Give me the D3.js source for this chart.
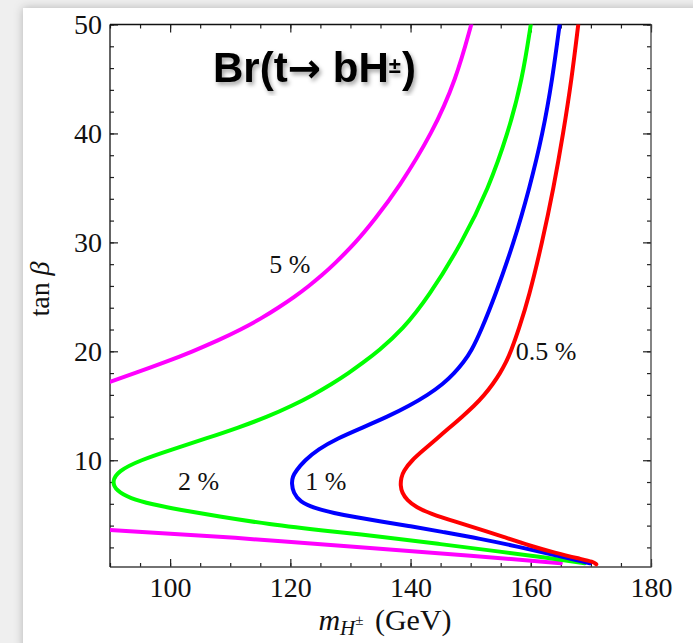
<!DOCTYPE html>
<html>
<head>
<meta charset="utf-8">
<script src="https://cdn.jsdelivr.net/npm/d3@7"></script>
<style>
body { margin: 0; background: #efefef; }
</style>
</head>
<body>
<div id="chart"></div>
<script>
// contours, [mH (GeV), tan beta]
// each one runs from its lower end, round the nose, up to the top
var br05 = [[170.9, 0.45], [170.4, 0.68], [168.2, 0.95], [164, 1.5], [159.9, 2.15], [155.5, 2.95], [151.6, 3.65],
    [147.5, 4.35], [143.2, 5.13], [141, 5.65], [139.4, 6.35], [138.6, 7.0], [138.3, 7.7], [138.45, 8.4],
    [138.8, 9.0], [140.2, 10], [142.3, 11], [144.4, 12], [146.5, 13], [148.6, 14], [150.6, 15], [152.3, 16],
    [153.7, 17], [154.9, 18], [155.9, 19], [156.7, 20], [158.0, 22], [159.7, 25], [161.9, 30], [163.8, 35],
    [165.4, 40], [166.8, 45], [167.9, 50]];

var br1 = [[169.8, 0.55], [164, 1.3], [158, 2.05], [151.6, 2.8], [145, 3.45], [140, 3.95], [134.9, 4.4],
    [131, 4.75], [127.2, 5.15], [124, 5.6], [121.6, 6.2], [120.5, 7.0], [120.2, 7.9], [120.4, 8.5],
    [120.9, 9], [122.4, 10], [124.6, 11], [127.8, 12], [132.0, 13], [136.2, 14], [139.8, 15], [142.9, 16],
    [145.4, 17], [147.3, 18], [148.8, 19], [150.1, 20], [151.8, 22], [154.0, 25], [157.2, 30], [159.8, 35],
    [162.0, 40], [163.6, 45], [164.8, 50]];

var br2 = [[169, 0.55], [162, 1.1], [155, 1.6], [145, 2.3], [134.9, 3.0], [127.2, 3.45], [116, 4.15],
    [108, 4.85], [101.6, 5.45], [97, 5.95], [93.3, 6.5], [91.1, 7.2], [90.3, 8.0], [91.3, 9], [95.0, 10],
    [100.4, 11], [106.0, 12], [111.4, 13], [116.25, 14], [120.3, 15], [123.8, 16], [126.9, 17], [129.7, 18],
    [132.2, 19], [134.6, 20], [138.7, 22], [143.0, 25], [148.6, 30], [153.0, 35], [156.2, 40], [158.6, 45],
    [160.0, 50]];

// the 5 % line is cut by the left edge, so it comes in two pieces
var br5Upper = [[90, 17.2], [94.2, 18], [99.2, 19], [103.8, 20], [108, 21], [111.8, 22], [115.1, 23],
    [118, 24], [120.7, 25], [123.1, 26], [125.3, 27], [127.3, 28], [130.9, 30], [133.9, 32], [138, 35],
    [143.6, 40], [147.6, 45], [150.1, 50]];
var br5Lower = [[90, 3.6], [110, 2.95], [134.9, 1.85], [150, 1.25], [165, 0.55]];

var xTicks = [100, 120, 140, 160, 180];
var xMinor = d3.range(90, 181, 5);
var yTicks = [10, 20, 30, 40, 50];
var yMinor = d3.range(2, 51, 2);

var width = 693, height = 643;
var plotL = 110, plotR = 651, plotT = 24.5, plotB = 567;

var svg = d3.select("#chart").append("svg")
    .attr("width", width)
    .attr("height", height);

var defs = svg.append("defs");
defs.append("filter").attr("id", "panelShadow")
    .attr("x", "-10%").attr("y", "-10%").attr("width", "120%").attr("height", "120%")
    .append("feDropShadow")
    .attr("dx", 0).attr("dy", 0).attr("stdDeviation", 5)
    .attr("flood-color", "#000").attr("flood-opacity", 0.25);
defs.append("filter").attr("id", "titleShadow")
    .append("feDropShadow")
    .attr("dx", 2).attr("dy", 3).attr("stdDeviation", 2)
    .attr("flood-color", "#000").attr("flood-opacity", 0.35);
defs.append("clipPath").attr("id", "plotClip")
    .append("rect")
    .attr("x", plotL).attr("y", plotT)
    .attr("width", plotR - plotL).attr("height", plotB - plotT);

// grey page with the white sheet on it
svg.append("rect")
    .attr("width", width).attr("height", height)
    .attr("fill", "#efefef");
svg.append("rect")
    .attr("x", 23).attr("y", 8)
    .attr("width", width).attr("height", height)
    .attr("fill", "#fff")
    .attr("filter", "url(#panelShadow)");

var x = d3.scaleLinear().domain([90, 180]).range([plotL, plotR]);
var y = d3.scaleLinear().domain([0.2, 50]).range([plotB, plotT]);

var serif = "'Liberation Serif', 'Times New Roman', serif";

//Axes, ticks point inwards
function axisGroup(axis, tx, ty) {
    var g = svg.append("g")
        .attr("transform", "translate(" + tx + "," + ty + ")")
        .call(axis);
    g.select(".domain").remove();
    g.selectAll("line").attr("stroke", "#222").attr("stroke-width", 1.2);
    g.selectAll("text")
        .attr("font-family", serif)
        .attr("font-size", 28)
        .attr("fill", "#111");
    return g;
}

axisGroup(d3.axisBottom(x).tickValues(xMinor).tickSize(-4).tickFormat(""), 0, plotB);
axisGroup(d3.axisBottom(x).tickValues(xTicks).tickSize(-8).tickPadding(10).tickFormat(d3.format("d")), 0, plotB);
axisGroup(d3.axisTop(x).tickValues(xMinor).tickSize(-4).tickFormat(""), 0, plotT);
axisGroup(d3.axisTop(x).tickValues(xTicks).tickSize(-8).tickFormat(""), 0, plotT);

axisGroup(d3.axisLeft(y).tickValues(yMinor).tickSize(-4).tickFormat(""), plotL, 0);
axisGroup(d3.axisLeft(y).tickValues(yTicks).tickSize(-8).tickPadding(8).tickFormat(d3.format("d")), plotL, 0);
axisGroup(d3.axisRight(y).tickValues(yMinor).tickSize(-4).tickFormat(""), plotR, 0);
axisGroup(d3.axisRight(y).tickValues(yTicks).tickSize(-8).tickFormat(""), plotR, 0);

// frame
svg.append("path")
    .attr("d", "M" + plotL + "," + plotT + "H" + plotR)
    .attr("stroke", "#111").attr("stroke-width", 1.3).attr("fill", "none");
svg.append("path")
    .attr("d", "M" + plotR + "," + plotT + "V" + plotB + "H" + plotL)
    .attr("stroke", "#444").attr("stroke-width", 1.3).attr("fill", "none");
svg.append("path")
    .attr("d", "M" + plotL + "," + plotT + "V" + plotB)
    .attr("stroke", "#111").attr("stroke-width", 1.3).attr("fill", "none");

//Draw the contours
var line = d3.line()
    .x(function (d) { return x(d[0]); })
    .y(function (d) { return y(d[1]); })
    .curve(d3.curveBasis);

var curves = svg.append("g").attr("clip-path", "url(#plotClip)");
var contours = [
    { pts: br5Upper, color: "#ff00ff" },
    { pts: br5Lower, color: "#ff00ff" },
    { pts: br2, color: "#00ff00" },
    { pts: br1, color: "#0000ff" },
    { pts: br05, color: "#ff0000" }
];
contours.forEach(function (c) {
    curves.append("path")
        .attr("d", line(c.pts))
        .attr("fill", "none")
        .attr("stroke", c.color)
        .attr("stroke-width", 4)
        .attr("stroke-linecap", "round")
        .attr("stroke-linejoin", "round");
});

// contour labels
function label(txt, m, t) {
    svg.append("text")
        .attr("x", x(m)).attr("y", y(t))
        .attr("font-family", serif)
        .attr("font-size", 26)
        .attr("fill", "#111")
        .text(txt);
}
label("5 %", 116.5, 27.2);
label("2 %", 101.3, 7.3);
label("1 %", 122.5, 7.3);
label("0.5 %", 157.5, 19.2);

// title
var title = svg.append("text")
    .attr("x", 213).attr("y", 82)
    .attr("font-family", "'Liberation Sans', Arial, sans-serif")
    .attr("font-weight", "bold")
    .attr("font-size", 42)
    .attr("fill", "#000")
    .attr("filter", "url(#titleShadow)");
title.append("tspan").text("Br(t");
title.append("tspan").attr("font-family", "'DejaVu Sans', sans-serif").attr("font-size", 40).text("\u2192");
title.append("tspan").text(" bH");
title.append("tspan").attr("font-size", 22).attr("dy", -9).text("\u00b1");
title.append("tspan").attr("dy", 9).attr("dx", 1).text(")");

// axis titles
var yTitle = svg.append("text")
    .attr("transform", "translate(49,289) rotate(-90)")
    .attr("text-anchor", "middle")
    .attr("font-family", serif)
    .attr("font-size", 28)
    .attr("fill", "#111");
yTitle.append("tspan").text("tan ");
yTitle.append("tspan").attr("font-style", "italic").text("\u03b2");

var xTitle = svg.append("text")
    .attr("x", 385).attr("y", 630)
    .attr("text-anchor", "middle")
    .attr("font-family", serif)
    .attr("font-size", 30)
    .attr("fill", "#111");
xTitle.append("tspan").attr("font-style", "italic").text("m");
xTitle.append("tspan").attr("font-style", "italic").attr("font-size", 21).attr("dy", 5).text("H");
xTitle.append("tspan").attr("font-size", 15).attr("dy", -10).text("\u00b1");
xTitle.append("tspan").attr("dy", 5).attr("dx", 4).text(" (GeV)");
</script>
</body>
</html>
